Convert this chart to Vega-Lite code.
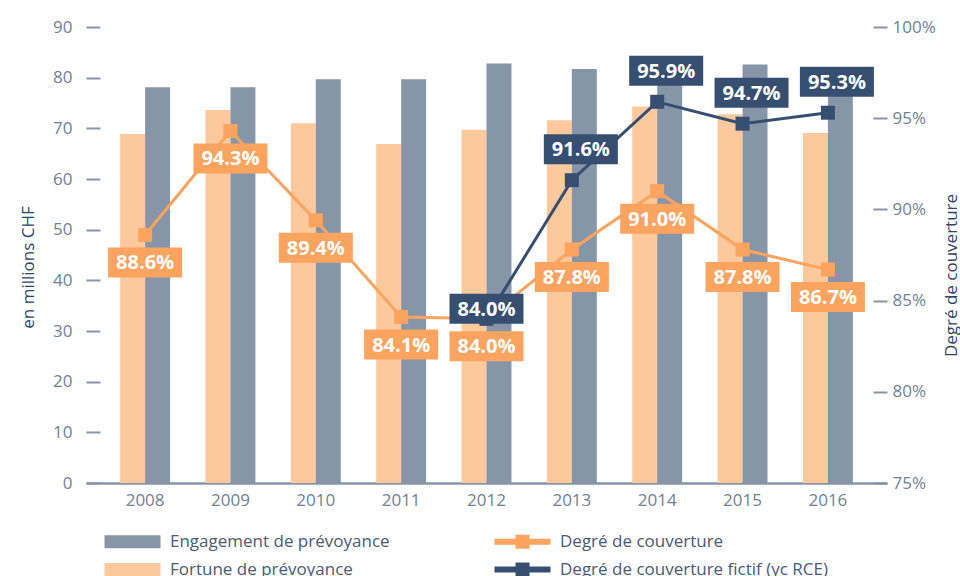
{
  "$schema": "https://vega.github.io/schema/vega-lite/v6.json",
  "width": 801,
  "height": 456,
  "autosize": {"type": "none"},
  "padding": {"left": 86, "top": 27, "right": 73, "bottom": 93},
  "background": "white",
  "config": {"view": {"stroke": null}, "font": "Open Sans", "axis": {"grid": false}},
  "datasets": {
    "bars": [
      {"year": "2008", "series": "Fortune de prévoyance", "value": 68.9},
      {"year": "2008", "series": "Engagement de prévoyance", "value": 78.1},
      {"year": "2009", "series": "Fortune de prévoyance", "value": 73.6},
      {"year": "2009", "series": "Engagement de prévoyance", "value": 78.1},
      {"year": "2010", "series": "Fortune de prévoyance", "value": 71.0},
      {"year": "2010", "series": "Engagement de prévoyance", "value": 79.7},
      {"year": "2011", "series": "Fortune de prévoyance", "value": 66.9},
      {"year": "2011", "series": "Engagement de prévoyance", "value": 79.7},
      {"year": "2012", "series": "Fortune de prévoyance", "value": 69.7},
      {"year": "2012", "series": "Engagement de prévoyance", "value": 82.8},
      {"year": "2013", "series": "Fortune de prévoyance", "value": 71.6},
      {"year": "2013", "series": "Engagement de prévoyance", "value": 81.7},
      {"year": "2014", "series": "Fortune de prévoyance", "value": 74.3},
      {"year": "2014", "series": "Engagement de prévoyance", "value": 81.6},
      {"year": "2015", "series": "Fortune de prévoyance", "value": 72.8},
      {"year": "2015", "series": "Engagement de prévoyance", "value": 82.6},
      {"year": "2016", "series": "Fortune de prévoyance", "value": 69.1},
      {"year": "2016", "series": "Engagement de prévoyance", "value": 79.7}
    ],
    "lines": [
      {"year": "2008", "series": "Degré de couverture", "pct": 0.886},
      {"year": "2009", "series": "Degré de couverture", "pct": 0.943},
      {"year": "2010", "series": "Degré de couverture", "pct": 0.894},
      {"year": "2011", "series": "Degré de couverture", "pct": 0.841},
      {"year": "2012", "series": "Degré de couverture", "pct": 0.840},
      {"year": "2013", "series": "Degré de couverture", "pct": 0.878},
      {"year": "2014", "series": "Degré de couverture", "pct": 0.910},
      {"year": "2015", "series": "Degré de couverture", "pct": 0.878},
      {"year": "2016", "series": "Degré de couverture", "pct": 0.867},
      {"year": "2012", "series": "Degré de couverture fictif (yc RCE)", "pct": 0.840},
      {"year": "2013", "series": "Degré de couverture fictif (yc RCE)", "pct": 0.916},
      {"year": "2014", "series": "Degré de couverture fictif (yc RCE)", "pct": 0.959},
      {"year": "2015", "series": "Degré de couverture fictif (yc RCE)", "pct": 0.947},
      {"year": "2016", "series": "Degré de couverture fictif (yc RCE)", "pct": 0.953}
    ]
  },
  "layer": [
    {
      "data": {"name": "bars"},
      "mark": {"type": "bar"},
      "encoding": {
        "x": {
          "field": "year", "type": "nominal",
          "scale": {"paddingInner": 0.415, "paddingOuter": 0.4},
          "axis": {
            "title": null, "labelAngle": 0, "ticks": false, "domain": true,
            "domainColor": "#8795a8", "domainWidth": 2.5,
            "labelFont": "Open Sans", "labelFontSize": 17, "labelColor": "#717f96", "labelPadding": 9
          }
        },
        "xOffset": {
          "field": "series", "type": "nominal",
          "scale": {"domain": ["Fortune de prévoyance", "Engagement de prévoyance"], "paddingInner": 0, "paddingOuter": 0}
        },
        "y": {
          "field": "value", "type": "quantitative",
          "scale": {"domain": [0, 90], "nice": false},
          "axis": {
            "values": [0, 10, 20, 30, 40, 50, 60, 70, 80, 90],
            "domain": false, "offset": -14, "tickSize": 14, "tickWidth": 2, "tickColor": "#8795a8",
            "labelFont": "Open Sans", "labelFontSize": 17, "labelColor": "#717f96", "labelPadding": 14,
            "title": "en millions CHF", "titleFont": "Open Sans", "titleFontSize": 17, "titleFontWeight": "normal",
            "titleColor": "#2f4566", "titleAngle": 270, "titleAlign": "center", "titleBaseline": "middle",
            "titleX": -72, "titleY": 240
          }
        },
        "color": {
          "field": "series", "type": "nominal",
          "scale": {
            "domain": ["Engagement de prévoyance", "Fortune de prévoyance", "Degré de couverture", "Degré de couverture fictif (yc RCE)"],
            "range": ["#8795a8", "#fdc89c", "#fba45f", "#364f70"]
          },
          "legend": {
            "orient": "none", "legendX": 17, "legendY": 506, "columns": 2, "title": null,
            "symbolType": "M-1,-0.93H7V0.93H-1Z", "symbolSize": 196, "symbolStrokeWidth": 0, "symbolOpacity": 1,
            "labelFont": "Open Sans", "labelFontSize": 17, "labelColor": "#4b5a72", "labelOffset": 50,
            "rowPadding": 10, "columnPadding": 103, "labelLimit": 400,
            "encode": {
              "symbols": {
                "update": {
                  "shape": {"signal": "(datum.value == 'Engagement de prévoyance' || datum.value == 'Fortune de prévoyance') ? 'M-1,-0.93H7V0.93H-1Z' : 'M-1,-0.43H7V0.43H-1Z M2,-1H4V1H2Z'"},
                  "fill": {"scale": "color", "field": "value"},
                  "opacity": {"value": 1},
                  "strokeWidth": {"value": 0}
                }
              }
            }
          }
        }
      }
    },
    {
      "data": {"name": "lines"},
      "encoding": {
        "x": {"field": "year", "type": "nominal"},
        "y": {
          "field": "pct", "type": "quantitative",
          "scale": {"domain": [0.75, 1.0], "nice": false},
          "axis": {
            "orient": "right", "values": [0.75, 0.8, 0.85, 0.9, 0.95, 1.0], "format": ".0%",
            "domain": false, "offset": -14, "tickSize": 14, "tickWidth": 2, "tickColor": "#8795a8",
            "labelFont": "Open Sans", "labelFontSize": 17, "labelColor": "#717f96", "labelPadding": 5,
            "title": "Degré de couverture", "titleFont": "Open Sans", "titleFontSize": 17, "titleFontWeight": "normal",
            "titleColor": "#2f4566", "titleAngle": 270, "titleAlign": "center", "titleBaseline": "middle",
            "titleX": 78, "titleY": 248
          }
        },
        "color": {
          "field": "series", "type": "nominal",
          "scale": {
            "domain": ["Engagement de prévoyance", "Fortune de prévoyance", "Degré de couverture", "Degré de couverture fictif (yc RCE)"],
            "range": ["#8795a8", "#fdc89c", "#fba45f", "#364f70"]
          },
          "legend": null
        }
      },
      "layer": [
        {"mark": {"type": "line", "strokeWidth": 3}},
        {"mark": {"type": "point", "shape": "square", "filled": true, "size": 196, "opacity": 1}},
        {
          "mark": {
            "type": "point", "shape": "M-1,-0.405H1V0.405H-1Z", "filled": true, "size": 5476, "opacity": 1,
            "yOffset": {"expr": "datum.series == 'Degré de couverture' ? 27.5 : (datum.year == '2012' ? -10 : -31)"},
            "xOffset": {"expr": "(datum.series == 'Degré de couverture' || datum.year == '2012') ? 0 : 9"}
          }
        },
        {
          "mark": {
            "type": "text", "color": "white", "font": "Open Sans", "fontWeight": "bold", "fontSize": 20,
            "align": "center", "baseline": "middle",
            "yOffset": {"expr": "datum.series == 'Degré de couverture' ? 28.5 : (datum.year == '2012' ? -9 : -30)"},
            "xOffset": {"expr": "(datum.series == 'Degré de couverture' || datum.year == '2012') ? 0 : 9"}
          },
          "encoding": {"text": {"field": "pct", "type": "quantitative", "format": ".1%"}, "color": {"value": "white"}}
        }
      ]
    }
  ],
  "resolve": {"scale": {"y": "independent"}}
}
